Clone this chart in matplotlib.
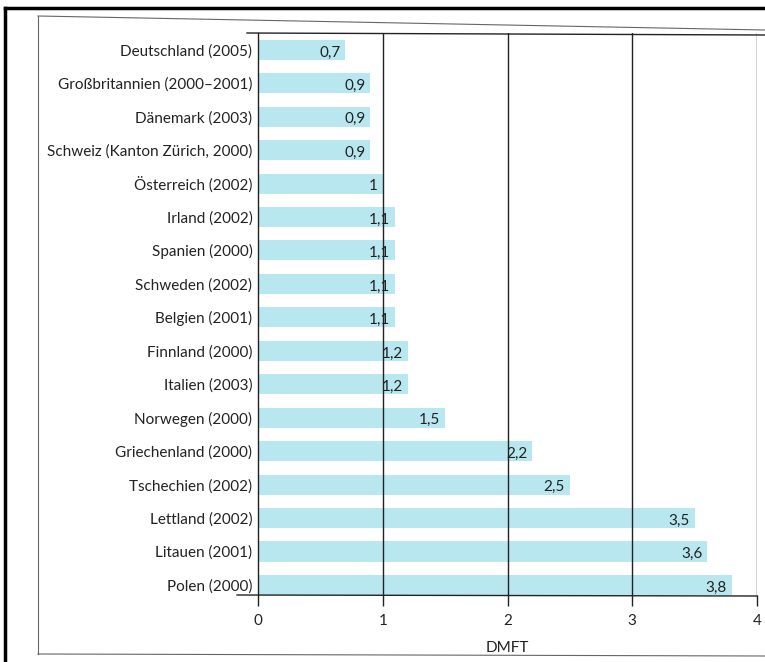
import numpy as np
import matplotlib.pyplot as plt
from matplotlib.lines import Line2D

# DMFT bei 12-Jährigen in Europa
laender = ["Deutschland (2005)", "Großbritannien (2000–2001)", "Dänemark (2003)",
           "Schweiz (Kanton Zürich, 2000)", "Österreich (2002)", "Irland (2002)",
           "Spanien (2000)", "Schweden (2002)", "Belgien (2001)", "Finnland (2000)",
           "Italien (2003)", "Norwegen (2000)", "Griechenland (2000)",
           "Tschechien (2002)", "Lettland (2002)", "Litauen (2001)", "Polen (2000)"]
dmft = [0.7, 0.9, 0.9, 0.9, 1.0, 1.1, 1.1, 1.1, 1.1, 1.2, 1.2, 1.5, 2.2, 2.5, 3.5, 3.6, 3.8]
x_ticks = [0, 1, 2, 3, 4]

plt.rcParams['font.family'] = ['Lato', 'DejaVu Sans']
fs = 11

fig = plt.figure(figsize=(7.65, 6.62), dpi=100)
ax = fig.add_axes([258/765, 1-595/662, 499/765, 562/662])

y = np.arange(len(laender))
ax.barh(y, dmft, height=0.6, color='#b9e7f0', zorder=1)

# Werte in die Balken schreiben
for yi, v in zip(y, dmft):
    txt = f"{v:g}".replace('.', ',')
    ax.text(v - 0.04, yi + 0.08, txt, ha='right', va='center', fontsize=fs, color='#222222', zorder=3)

ax.set_xlim(0, 4)
ax.set_ylim(len(laender) - 0.7, -0.5)

# senkrechte Linien bei 1..4
for xv in x_ticks[1:]:
    ax.axvline(xv, color='#222222', lw=1.0, zorder=2)

ax.set_yticks(y)
ax.set_yticklabels(laender, fontsize=fs, color='#222222')
ax.tick_params(axis='y', length=0, pad=4)
ax.set_xticks(x_ticks)
ax.set_xticklabels([str(t) for t in x_ticks], fontsize=fs, color='#222222')
ax.tick_params(axis='x', length=8, width=1.0, color='#222222', pad=6)
ax.set_xlabel("DMFT", fontsize=fs, color='#222222', labelpad=9)

for s in ['right', 'top', 'bottom']:
    ax.spines[s].set_visible(False)
ax.spines['left'].set_color('#222222')
ax.spines['left'].set_linewidth(1.0)

# Achsenlinien oben und unten etwas über den Rand hinaus
fig.add_artist(Line2D([247/765, 1.0], [1-33/662, 1-35/662], color='#222222', lw=1.0))
fig.add_artist(Line2D([237/765, 757/765], [1-595/662, 1-596/662], color='#222222', lw=1.0))

# Rahmen
fig.add_artist(Line2D([38/765, 38/765], [1-16/662, 1-654/662], color='#666666', lw=0.8))
fig.add_artist(Line2D([38/765, 1.0], [1-16/662, 1-30/662], color='#666666', lw=0.8))
fig.add_artist(Line2D([38/765, 1.0], [1-654/662, 1-656/662], color='#666666', lw=0.8))
fig.add_artist(Line2D([5/765, 5/765], [1-8/662, 0], color='black', lw=2.5))
fig.add_artist(Line2D([5/765, 1.0], [1-8/662, 1-8/662], color='black', lw=2.5))

fig.savefig("out.png", dpi=100)
